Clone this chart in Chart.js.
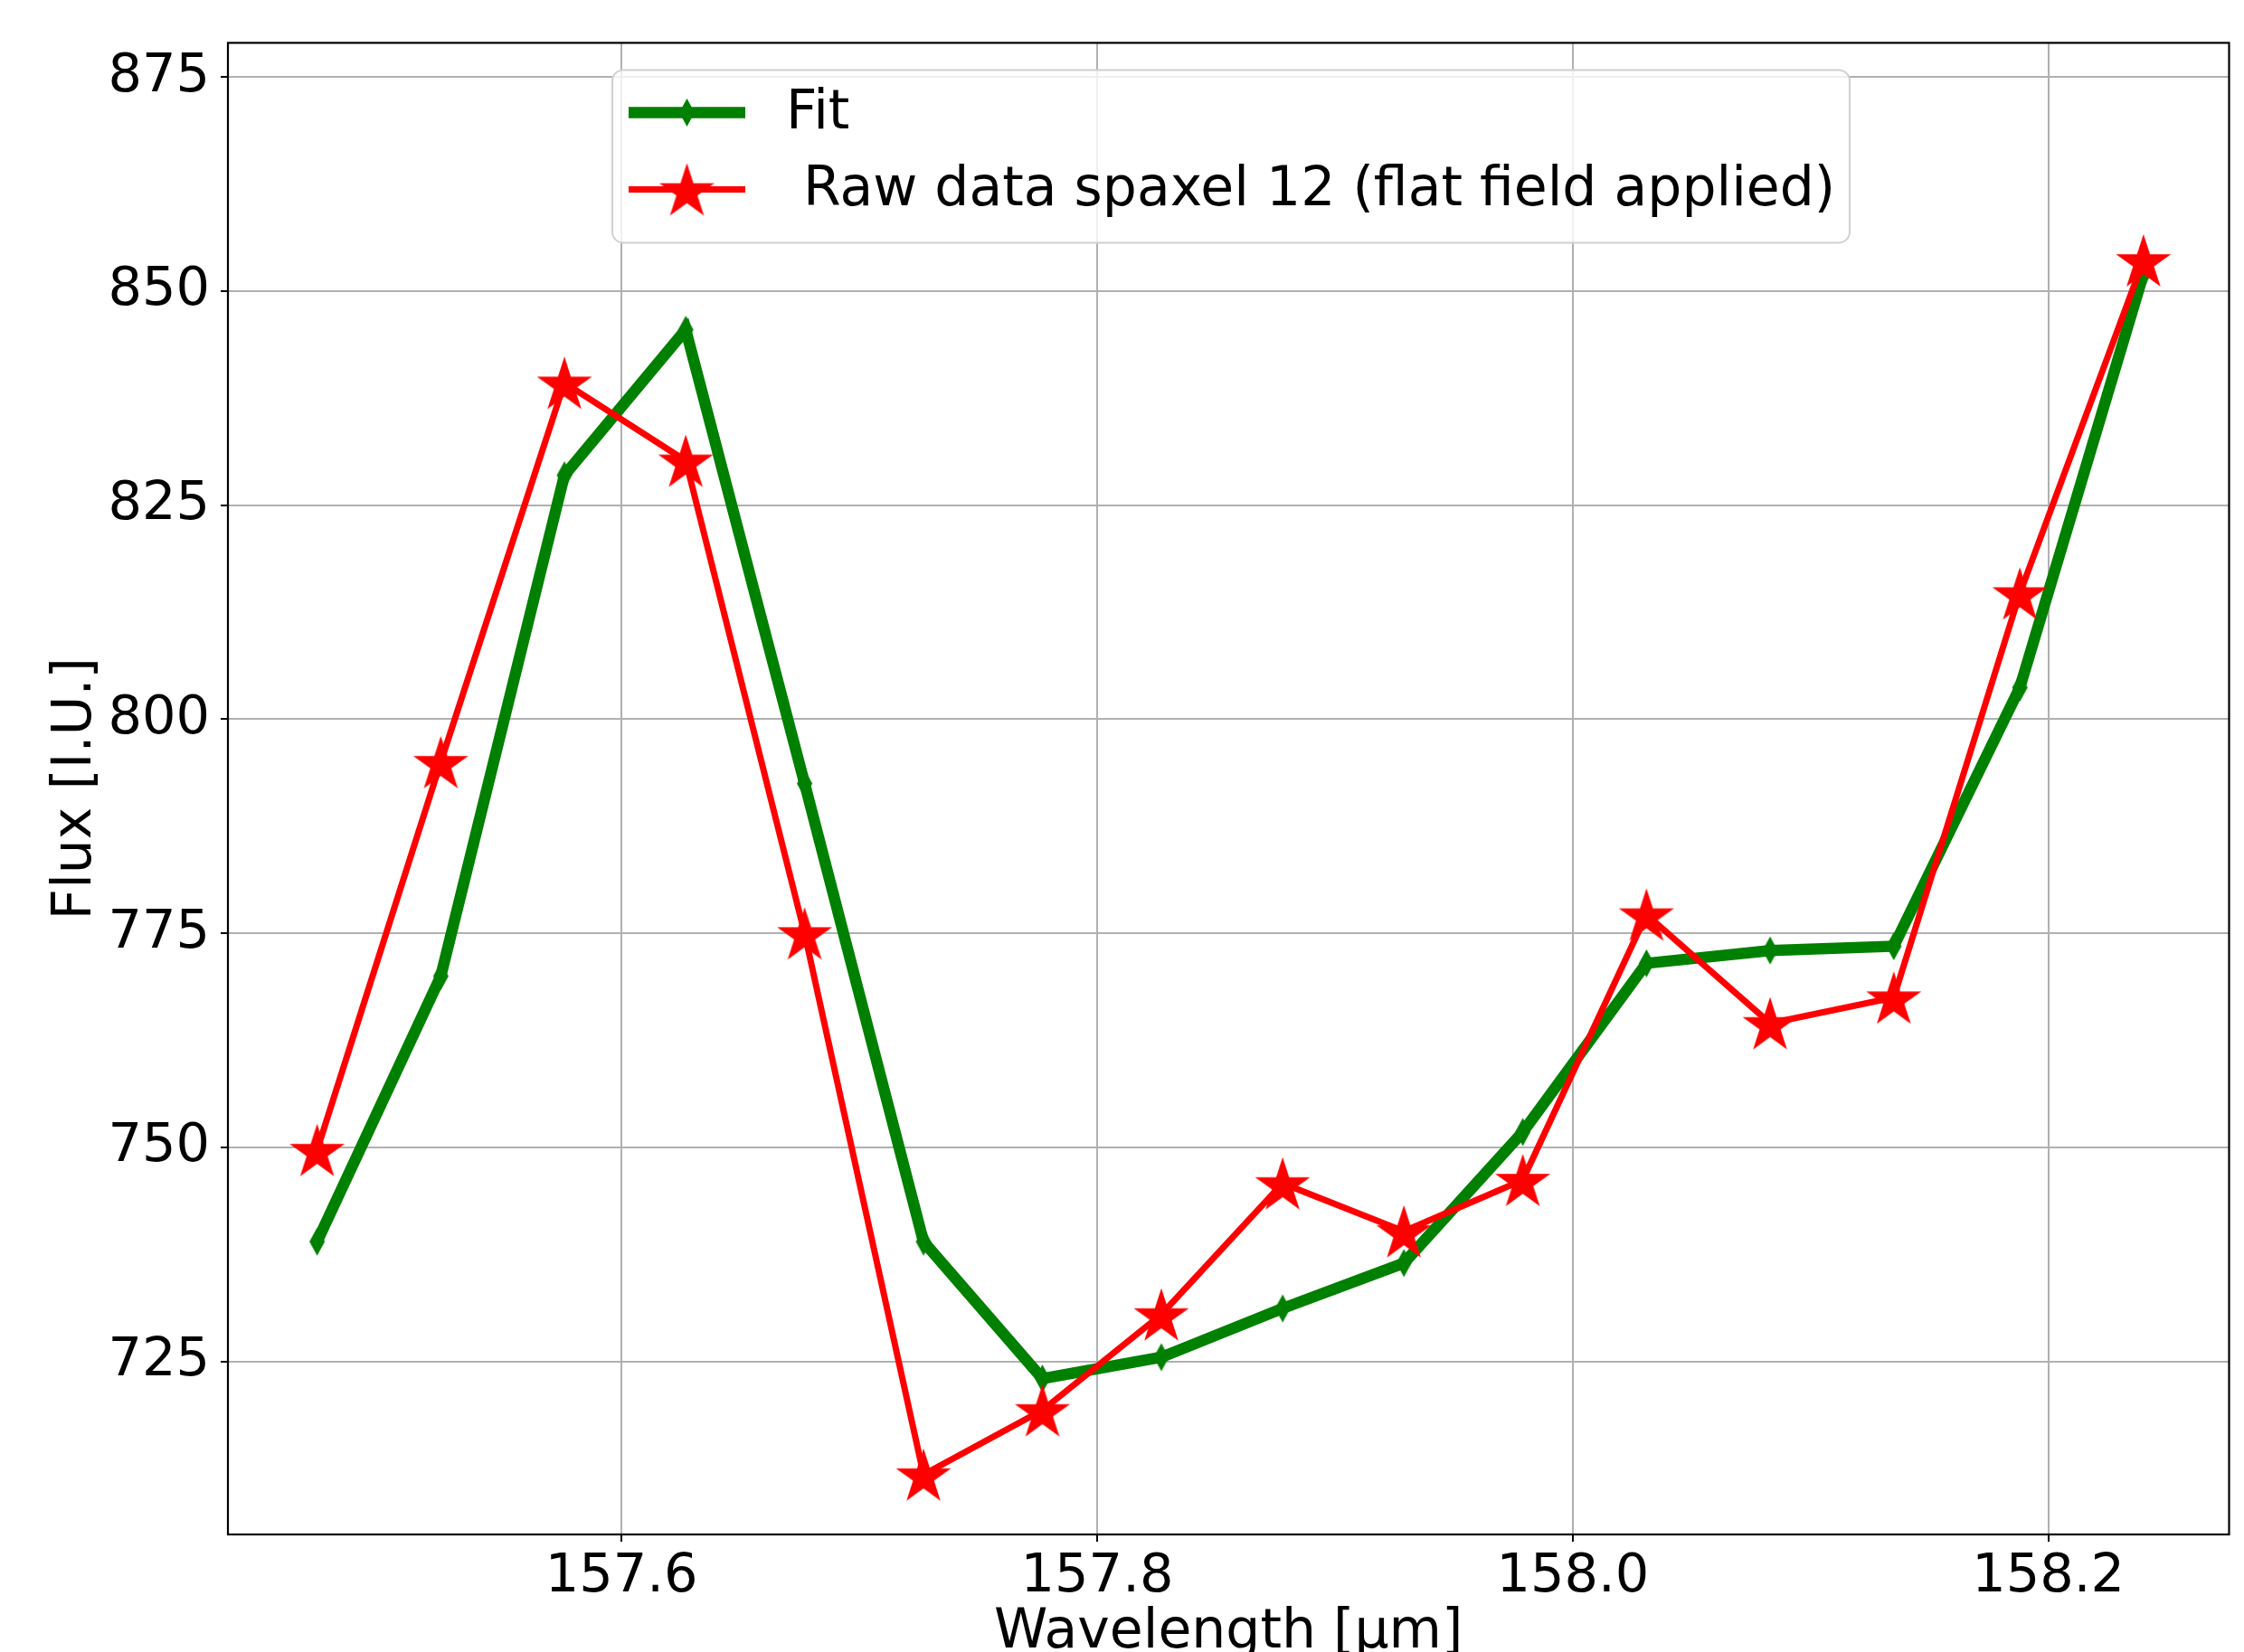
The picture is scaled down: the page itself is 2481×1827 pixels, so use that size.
<!DOCTYPE html>
<html>
<head>
<meta charset="utf-8">
<script src="https://cdn.jsdelivr.net/npm/chart.js@4.4.0/dist/chart.umd.min.js"></script>
<style>
  html, body { margin: 0; padding: 0; background: #fff; }
  canvas { display: block; }
</style>
</head>
<body>
<canvas id="spaxel-chart" width="2481" height="1827"></canvas>
<script>
// wavelength grid [µm], shared by fit and raw data
const wavelength = [157.472, 157.524, 157.576, 157.627, 157.677, 157.727, 157.777, 157.827,
                    157.878, 157.929, 157.979, 158.031, 158.083, 158.135, 158.188, 158.240]
const fitFlux = [739.0, 770.0, 828.5, 845.5, 792.5, 739.0, 723.0, 725.5,
                 731.2, 736.5, 751.8, 771.5, 773.0, 773.5, 803.7, 852.0]
const rawFlux = [749.7, 795.0, 839.3, 830.2, 775.0, 711.8, 719.3, 730.5,
                 745.8, 740.2, 746.2, 777.2, 764.5, 767.5, 814.7, 853.6]

const xTicks = [157.6, 157.8, 158.0, 158.2]
const yTicks = [725, 750, 775, 800, 825, 850, 875]
const xRange = [157.4345, 158.276]
const yRange = [704.8, 879.0]

const FONT = '"DejaVu Sans", sans-serif'
const FONT_SIZE = 60
const TICK_SIZE = 59

// matplotlib-like markers drawn on small offscreen canvases
function makeStar(r) {
  const c = document.createElement('canvas')
  c.width = c.height = Math.ceil(r * 2 + 4)
  const g = c.getContext('2d')
  const cx = c.width / 2, cy = c.height / 2 + r * 0.095
  const inner = r * 0.382
  g.beginPath()
  for (let i = 0; i < 10; i++) {
    const rad = i % 2 === 0 ? r : inner
    const a = -Math.PI / 2 + i * Math.PI / 5
    const px = cx + rad * Math.cos(a), py = cy + rad * Math.sin(a)
    if (i === 0) g.moveTo(px, py)
    else g.lineTo(px, py)
  }
  g.closePath()
  g.fillStyle = '#ff0000'
  g.fill()
  return c
}

function makeThinDiamond(w, h) {
  const c = document.createElement('canvas')
  c.width = w + 2
  c.height = h + 2
  const g = c.getContext('2d')
  const cx = c.width / 2, cy = c.height / 2
  g.beginPath()
  g.moveTo(cx, cy - h / 2)
  g.lineTo(cx + w / 2, cy)
  g.lineTo(cx, cy + h / 2)
  g.lineTo(cx - w / 2, cy)
  g.closePath()
  g.fillStyle = '#008000'
  g.fill()
  return c
}

const starImg = makeStar(32)
const diamondImg = makeThinDiamond(17, 31)

// full box round the axes (matplotlib spines)
const framePlugin = {
  id: 'frame',
  afterDatasetsDraw(chart) {
    const { ctx, chartArea: a } = chart
    ctx.save()
    ctx.strokeStyle = '#000'
    ctx.lineWidth = 2.2
    ctx.strokeRect(a.left, a.top, a.right - a.left, a.bottom - a.top)
    ctx.restore()
  }
}

// legend drawn inside the axes box
const legendPlugin = {
  id: 'mplLegend',
  afterDraw(chart) {
    const { ctx, chartArea: a } = chart
    const x0 = a.left + 425, y0 = a.top + 30
    const w = 1368, h = 191, r = 12
    ctx.save()
    ctx.beginPath()
    ctx.roundRect(x0, y0, w, h, r)
    ctx.fillStyle = 'rgba(255,255,255,0.8)'
    ctx.fill()
    ctx.strokeStyle = '#d0d0d0'
    ctx.lineWidth = 2
    ctx.stroke()

    const rows = [chart.data.datasets[0], chart.data.datasets[1]]
    rows.forEach((ds, i) => {
      const cy = y0 + 47 + i * 85
      const lx0 = x0 + 18, lx1 = x0 + 147
      ctx.beginPath()
      ctx.moveTo(lx0, cy)
      ctx.lineTo(lx1, cy)
      ctx.strokeStyle = ds.borderColor
      ctx.lineWidth = ds.borderWidth
      ctx.stroke()
      const img = ds.pointStyle
      ctx.drawImage(img, (lx0 + lx1) / 2 - img.width / 2, cy - img.height / 2)
      ctx.fillStyle = '#000'
      ctx.font = FONT_SIZE + 'px ' + FONT
      ctx.textBaseline = 'middle'
      ctx.fillText(ds.label, x0 + 192, cy + 2)
    })
    ctx.restore()
  }
}

const canvas = document.getElementById('spaxel-chart')
new Chart(canvas, {
  type: 'line',
  data: {
    datasets: [
      {
        label: 'Fit',
        data: wavelength.map((x, i) => ({ x, y: fitFlux[i] })),
        borderColor: '#008000',
        backgroundColor: '#008000',
        borderWidth: 12.5,
        pointStyle: diamondImg,
        tension: 0,
        order: 2,
      },
      {
        label: ' Raw data spaxel 12 (flat field applied)',
        data: wavelength.map((x, i) => ({ x, y: rawFlux[i] })),
        borderColor: '#ff0000',
        backgroundColor: '#ff0000',
        borderWidth: 7,
        pointStyle: starImg,
        tension: 0,
        order: 1,
      }
    ]
  },
  options: {
    responsive: false,
    devicePixelRatio: 1,
    animation: false,
    events: [],
    layout: { padding: { top: 44, right: 13, left: 0, bottom: 0 } },
    plugins: {
      legend: { display: false },
      tooltip: { enabled: false },
    },
    scales: {
      x: {
        type: 'linear',
        min: xRange[0],
        max: xRange[1],
        afterBuildTicks: (s) => { s.ticks = xTicks.map(v => ({ value: v })) },
        afterFit: (s) => { s.height = 130 },
        ticks: {
          color: '#000',
          font: { family: FONT, size: TICK_SIZE },
          padding: 4,
          maxRotation: 0,
          callback: (v) => v.toFixed(1),
        },
        grid: { color: '#b0b0b0', lineWidth: 2, tickLength: 8, tickColor: '#000', tickWidth: 2 },
        border: { display: false },
        title: {
          display: true,
          text: 'Wavelength [µm]',
          color: '#000',
          font: { family: FONT, size: FONT_SIZE, lineHeight: 1 },
          padding: { top: 0, bottom: -9 },
        },
      },
      y: {
        type: 'linear',
        min: yRange[0],
        max: yRange[1],
        afterBuildTicks: (s) => { s.ticks = yTicks.map(v => ({ value: v })) },
        afterFit: (s) => { s.width = 252 },
        ticks: {
          color: '#000',
          font: { family: FONT, size: TICK_SIZE },
          padding: 12,
          callback: (v) => String(v),
        },
        grid: { color: '#b0b0b0', lineWidth: 2, tickLength: 8, tickColor: '#000', tickWidth: 2 },
        border: { display: false },
        title: {
          display: true,
          text: 'Flux [I.U.]',
          color: '#000',
          font: { family: FONT, size: FONT_SIZE, lineHeight: 1.2 },
          padding: { top: 48, bottom: 0 },
        },
      }
    }
  },
  plugins: [framePlugin, legendPlugin]
})
</script>
</body>
</html>
